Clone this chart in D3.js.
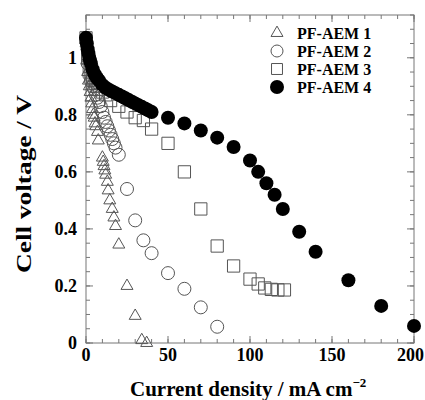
<!DOCTYPE html>
<html>
<head>
<meta charset="utf-8">
<script src="https://cdn.jsdelivr.net/npm/d3@7"></script>
<style>
  body { margin: 0; background: #fff; }
  text { font-family: "Liberation Serif", "Times New Roman", serif; font-weight: bold; }
</style>
</head>
<body>
<div id="chart"></div>
<script>
// data
var aem1_x = [0, 0.5, 1, 1.5, 2, 2.5, 3, 3.5, 4, 4.5, 5, 5.5, 6, 7, 7.5, 10, 10.5, 11, 11.5, 12, 13, 13.5, 14.5, 16, 17, 18, 20, 25, 30, 34, 37];
var aem1_y = [1.05, 0.99, 0.95, 0.92, 0.9, 0.88, 0.86, 0.84, 0.82, 0.8, 0.79, 0.77, 0.76, 0.74, 0.71, 0.65, 0.635, 0.62, 0.605, 0.59, 0.565, 0.535, 0.5, 0.47, 0.44, 0.41, 0.345, 0.2, 0.095, 0.01, 0.0];

var aem2_x = [0, 1, 2, 3, 4, 5, 6, 7, 8, 9, 10, 11, 12, 13, 14, 15, 16, 17, 18, 20, 25, 30, 35, 40, 50, 60, 70, 80];
var aem2_y = [1.06, 0.98, 0.94, 0.92, 0.9, 0.89, 0.87, 0.86, 0.845, 0.83, 0.81, 0.79, 0.775, 0.76, 0.745, 0.73, 0.715, 0.7, 0.685, 0.66, 0.54, 0.43, 0.36, 0.315, 0.245, 0.19, 0.125, 0.057];

var aem3_x = [0, 1, 2, 3, 4, 5, 6, 7, 8, 10, 12, 15, 20, 25, 30, 35, 40, 50, 60, 70, 80, 90, 100, 105, 109, 113, 117, 121];
var aem3_y = [1.07, 1.0, 0.97, 0.95, 0.93, 0.92, 0.91, 0.9, 0.89, 0.88, 0.87, 0.85, 0.83, 0.81, 0.79, 0.78, 0.75, 0.7, 0.6, 0.47, 0.34, 0.27, 0.224, 0.207, 0.193, 0.188, 0.186, 0.186];

var aem4_x = [0, 0.5, 1, 1.5, 2, 2.5, 3, 4, 5, 6, 7, 8, 10, 12, 14, 16, 18, 20, 22, 24, 26, 28, 30, 32, 34, 36, 38, 40, 50, 60, 70, 80, 90, 100, 105, 110, 115, 120, 130, 140, 160, 180, 200];
var aem4_y = [1.07, 1.05, 1.03, 1.015, 1.0, 0.99, 0.98, 0.96, 0.945, 0.935, 0.927, 0.92, 0.905, 0.895, 0.888, 0.882, 0.876, 0.87, 0.864, 0.858, 0.852, 0.846, 0.84, 0.834, 0.828, 0.822, 0.816, 0.81, 0.79, 0.77, 0.745, 0.72, 0.687, 0.64, 0.6, 0.56, 0.52, 0.47, 0.39, 0.32, 0.22, 0.13, 0.06];

var seriesNames = ["PF-AEM 1", "PF-AEM 2", "PF-AEM 3", "PF-AEM 4"];
var xTicks = [0, 50, 100, 150, 200];
var yTicks = [0, 0.2, 0.4, 0.6, 0.8, 1];

var margin = {top: 15, right: 11, bottom: 57, left: 86},
    W = 425, H = 400,
    width = W - margin.left - margin.right,
    height = H - margin.top - margin.bottom;

var svg = d3.select("#chart").append("svg")
    .attr("width", W)
    .attr("height", H);

var g = svg.append("g")
    .attr("transform", "translate(" + margin.left + "," + margin.top + ")");

var x = d3.scaleLinear().domain([0, 200]).range([0, width]);
var y = d3.scaleLinear().domain([0, 1.15]).range([height, 0]);

var axisColor = "#777";

// frame
g.append("rect")
  .attr("width", width).attr("height", height)
  .attr("fill", "none").attr("stroke", axisColor).attr("stroke-width", 1);

var xMinor = d3.range(0, 201, 10);
var yMinor = d3.range(0, 1.151, 0.05);

function tickLines(vals, isX, len, side) {
  g.append("g").selectAll("line")
    .data(vals)
    .enter().append("line")
      .attr("x1", d => isX ? x(d) : (side === 0 ? 0 : width))
      .attr("x2", d => isX ? x(d) : (side === 0 ? len : width - len))
      .attr("y1", d => isX ? (side === 0 ? height : 0) : y(d))
      .attr("y2", d => isX ? (side === 0 ? height - len : len) : y(d))
      .attr("stroke", axisColor).attr("stroke-width", 1);
}
tickLines(xMinor, true, 4, 0);
tickLines(xMinor, true, 4, 1);
tickLines(xTicks, true, 7, 0);
tickLines(xTicks, true, 7, 1);
tickLines(yMinor, false, 4, 0);
tickLines(yMinor, false, 4, 1);
tickLines(yTicks, false, 7, 0);
tickLines(yTicks, false, 7, 1);

// tick labels (last one pulled in so it stays inside the window)
g.append("g").selectAll("text")
  .data(xTicks)
  .enter().append("text")
    .attr("x", d => d === 200 ? W - margin.left - 1 : x(d))
    .attr("y", height + 18)
    .attr("text-anchor", d => d === 200 ? "end" : "middle")
    .style("font-size", "18px")
    .text(d => d);

g.append("g").selectAll("text")
  .data(yTicks)
  .enter().append("text")
    .attr("x", -9)
    .attr("y", d => y(d) + 6)
    .attr("text-anchor", "end")
    .style("font-size", "18px")
    .text(d => d);

// axis titles
svg.append("text")
  .attr("x", 130)
  .attr("y", 396)
  .attr("text-anchor", "start")
  .style("font-size", "21px")
  .html("Current density / mA cm<tspan dy='-9' style='font-size:13px'>&#8722;2</tspan>");

svg.append("text")
  .attr("transform", "translate(31,273) rotate(-90)")
  .attr("text-anchor", "start")
  .attr("textLength", 178)
  .attr("lengthAdjust", "spacingAndGlyphs")
  .style("font-size", "21px")
  .text("Cell voltage / V");

// markers
var tri = d3.symbol().type(d3.symbolTriangle).size(62);
var sq = d3.symbol().type(d3.symbolSquare).size(150);

function zip(xs, ys) { return xs.map((v, i) => [v, ys[i]]); }

var gm = g.append("g");

gm.selectAll(".s3").data(zip(aem3_x, aem3_y)).enter().append("path")
  .attr("d", sq)
  .attr("transform", d => "translate(" + x(d[0]) + "," + y(d[1]) + ")")
  .attr("fill", "none").attr("stroke", "#555").attr("stroke-width", 1);

gm.selectAll(".s2").data(zip(aem2_x, aem2_y)).enter().append("circle")
  .attr("cx", d => x(d[0])).attr("cy", d => y(d[1])).attr("r", 6.5)
  .attr("fill", "none").attr("stroke", "#555").attr("stroke-width", 1);

gm.selectAll(".s1").data(zip(aem1_x, aem1_y)).enter().append("path")
  .attr("d", tri)
  .attr("transform", d => "translate(" + x(d[0]) + "," + y(d[1]) + ")")
  .attr("fill", "none").attr("stroke", "#555").attr("stroke-width", 1);

gm.selectAll(".s4").data(zip(aem4_x, aem4_y)).enter().append("circle")
  .attr("cx", d => x(d[0])).attr("cy", d => y(d[1])).attr("r", 7)
  .attr("fill", "#000");

// legend
var leg = svg.append("g").attr("transform", "translate(277,33)");
seriesNames.forEach(function(name, i) {
  var row = leg.append("g").attr("transform", "translate(0," + (i * 18) + ")");
  if (i === 0) row.append("path").attr("d", tri).attr("fill", "none").attr("stroke", "#555");
  if (i === 1) row.append("circle").attr("r", 6).attr("fill", "none").attr("stroke", "#555");
  if (i === 2) row.append("path").attr("d", d3.symbol().type(d3.symbolSquare).size(120)).attr("fill", "none").attr("stroke", "#555");
  if (i === 3) row.append("circle").attr("r", 7).attr("fill", "#000");
  row.append("text")
    .attr("x", 20).attr("y", 5.5)
    .style("font-size", "16px")
    .text(name);
});
</script>
</body>
</html>
